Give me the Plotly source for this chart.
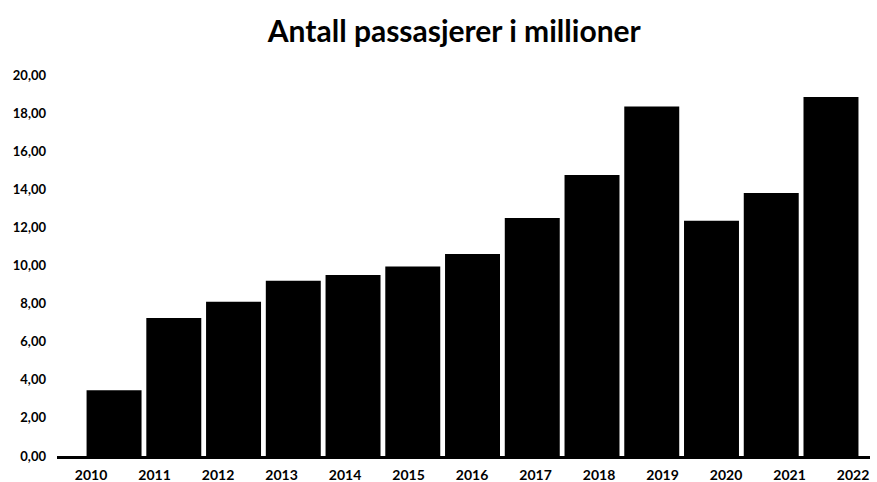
import plotly.graph_objects as go

years = ["2010", "2011", "2012", "2013", "2014", "2015", "2016",
         "2017", "2018", "2019", "2020", "2021", "2022"]
passengers = [3.45, 7.25, 8.1, 9.2, 9.5, 9.95, 10.6,
              12.5, 14.75, 18.35, 12.35, 13.8, 18.85]
y_ticks = [0, 2, 4, 6, 8, 10, 12, 14, 16, 18, 20]

idx = list(range(len(years)))

fig = go.Figure()
fig.add_trace(go.Bar(
    x=idx, y=passengers, width=0.92,
    marker=dict(color="black", line=dict(color="black", width=0)),
    xaxis="x", yaxis="y", hoverinfo="x+y",
))
# invisible trace carrying the year labels on the overlaid axis
fig.add_trace(go.Scatter(
    x=idx, y=[0] * len(idx), mode="markers",
    marker=dict(opacity=0), xaxis="x2", yaxis="y", showlegend=False,
    hoverinfo="skip",
))

fig.update_layout(
    width=877, height=482,
    paper_bgcolor="white", plot_bgcolor="white",
    separators=", ",
    showlegend=False,
    margin=dict(l=57, r=7, t=75, b=26),
    title=dict(text="Antall passasjerer i millioner", x=0.518, xanchor="center",
               y=0.935, yanchor="middle",
               font=dict(family="Lato", size=30, color="black", weight="bold")),
    font=dict(family="Lato", color="black"),
    xaxis=dict(range=[-0.955, 12.653], showticklabels=False, showgrid=False,
               zeroline=False, showline=True, linecolor="black", linewidth=3,
               ticks="", automargin=False),
    xaxis2=dict(range=[-0.536, 12.267], overlaying="x", side="bottom",
                tickmode="array", tickvals=idx, ticktext=years,
                showgrid=False, zeroline=False, showline=False, ticks="",
                automargin=False, ticklabelstandoff=9,
                tickfont=dict(family="Lato", size=14, color="black", weight="bold")),
    yaxis=dict(range=[0, 20], tickmode="array", tickvals=y_ticks,
               tickformat=".2f", showgrid=False, zeroline=False,
               showline=False, ticks="", ticklabelstandoff=10, automargin=False,
               tickfont=dict(family="Lato", size=13, color="black", weight="bold")),
)

fig.write_html("out.html", config={"displayModeBar": False},
               post_script="document.body.style.margin='0';")
